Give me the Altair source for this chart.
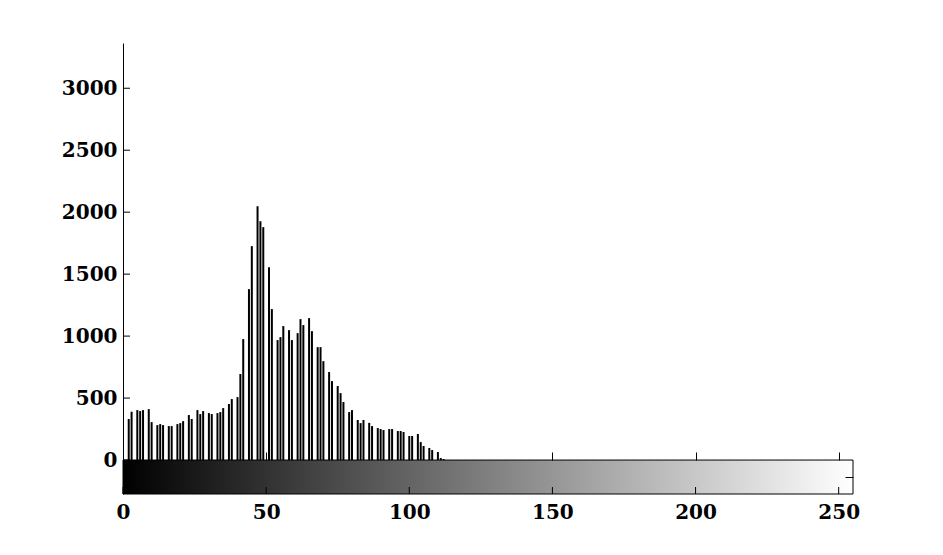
import altair as alt
import pandas as pd

# Histogram bins (intensity levels) and pixel counts
bins = [2, 3, 5, 6, 7, 9, 10, 12, 13, 14, 16, 17, 19, 20, 21, 23, 24, 26, 27, 28,
        30, 31, 33, 34, 35, 37, 38, 40, 41, 42, 44, 45, 47, 48, 49, 51, 52, 54, 55, 56,
        58, 59, 61, 62, 63, 65, 66, 68, 69, 70, 72, 73, 75, 76, 77, 79, 80, 82, 83, 84,
        86, 87, 89, 90, 91, 93, 94, 96, 97, 98, 100, 101, 103, 104, 105, 107, 108, 110, 111, 112]
counts = [331, 390, 403, 395, 403, 411, 306, 282, 290, 282, 274, 274, 290, 298, 314, 363, 331, 403, 371, 395,
          379, 371, 379, 387, 419, 452, 492, 508, 694, 976, 1379, 1726, 2048, 1927, 1879, 1556, 1218, 968, 992, 1081,
          1048, 968, 1024, 1137, 1089, 1145, 1040, 911, 911, 798, 710, 637, 597, 540, 468, 387, 403, 323, 298, 323,
          300, 274, 258, 250, 242, 250, 250, 234, 234, 226, 194, 194, 210, 145, 113, 97, 81, 65, 16, 8]

x_ticks = [0, 50, 100, 150, 200, 250]
y_ticks = [0, 500, 1000, 1500, 2000, 2500, 3000]

X_MIN, X_MAX = 0, 255
Y_MAX = 3365
CB_BOTTOM = -274          # colorbar occupies the strip below zero
CB_MID = -137

W, H = 730, 451
TICK = 7
PX_PER_COUNT = H / (Y_MAX - CB_BOTTOM)
ZERO_OFFSET = Y_MAX * PX_PER_COUNT

FONT = "DejaVu Serif"

df = pd.DataFrame({"bin": bins, "count": counts})
cb = pd.DataFrame({"lo": [X_MIN], "hi": [X_MAX], "bot": [CB_BOTTOM], "top": [0]})
xt = pd.DataFrame({"t": x_ticks})
yt = pd.DataFrame({"t": y_ticks})

xs = alt.Scale(domain=[X_MIN, X_MAX], nice=False, zero=False)
ys = alt.Scale(domain=[CB_BOTTOM, Y_MAX], nice=False, zero=False)

gradient = alt.LinearGradient(
    gradient="linear",
    stops=[alt.GradientStop(color="#000000", offset=0),
           alt.GradientStop(color="#ffffff", offset=1)],
    x1=0, x2=1, y1=0, y2=0,
)

label_style = dict(labelFont=FONT, labelFontSize=20, labelFontWeight="bold", labelColor="black",
                   format="d")
tick_only = dict(tickColor="black", tickWidth=1, labels=False, domain=False, grid=False,
                 title=None, zindex=2)

# Colorbar: bottom labels, left labels + axis line
colorbar = alt.Chart(cb).mark_rect(fill=gradient, stroke="black", strokeWidth=1).encode(
    x=alt.X("lo:Q", scale=xs, axis=alt.Axis(orient="bottom", values=x_ticks, tickSize=0, domain=False,
                                            grid=False, labelPadding=8, labelFlush=False, title=None,
                                            zindex=2, **label_style)),
    x2="hi:Q",
    y=alt.Y("bot:Q", scale=ys, axis=alt.Axis(orient="left", values=y_ticks, tickSize=0, domain=True,
                                             domainColor="black", domainWidth=1, grid=False,
                                             labelPadding=6, title=None, zindex=2, **label_style)),
    y2="top:Q",
)

# Right-edge colorbar tick (axis placed on the right edge, pointing inward)
ticks_layer = alt.Chart(cb).mark_rect(opacity=0).encode(
    x=alt.X("lo:Q", scale=xs, axis=None),
    x2="hi:Q",
    y=alt.Y("bot:Q", scale=ys, axis=alt.Axis(orient="left", offset=-W, values=[CB_MID], tickSize=8,
                                             **tick_only)),
    y2="top:Q",
)

# Inward ticks on the count axis
y_inward = alt.Chart(yt).mark_rule(color="black", strokeWidth=1).encode(
    x=alt.value(0),
    x2=alt.value(TICK),
    y=alt.Y("t:Q", scale=ys, axis=None),
)

# Inward ticks at the colorbar's bottom edge
x_inward = alt.Chart(xt).mark_rule(color="black", strokeWidth=1).encode(
    x=alt.X("t:Q", scale=xs, axis=None),
    y=alt.value(H),
    y2=alt.value(H - TICK),
)

# Histogram stems, with ticks pointing up from the zero line
hist = alt.Chart(df).mark_rule(color="black", strokeWidth=2).encode(
    x=alt.X("bin:Q", scale=xs, axis=alt.Axis(orient="top", offset=-ZERO_OFFSET, values=x_ticks, tickSize=8,
                                             **tick_only)),
    y=alt.Y("count:Q", scale=ys, axis=None),
    y2=alt.datum(0),
)

chart = alt.layer(colorbar, ticks_layer, x_inward, y_inward, hist).resolve_axis(
    x="independent", y="independent"
).properties(
    width=W, height=H,
    autosize=alt.AutoSizeParams(type="none"),
    padding={"left": 115, "top": 35, "right": 60, "bottom": 40},
    background="white",
).configure_view(strokeWidth=0)

chart.save("out.html", embed_options={"renderer": "svg", "actions": False})
